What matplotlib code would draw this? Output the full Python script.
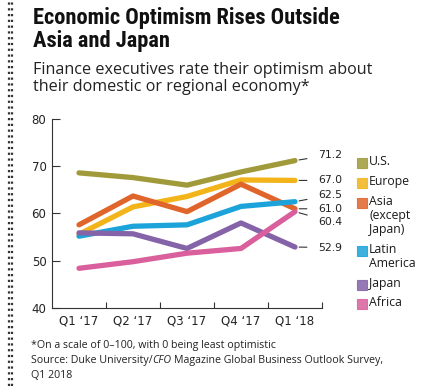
import matplotlib
matplotlib.use("Agg")
import matplotlib.pyplot as plt
from matplotlib.lines import Line2D
from matplotlib.patches import Rectangle
from matplotlib import font_manager as fm

categories = ["Q1 \u201817", "Q2 \u201817", "Q3 \u201817", "Q4 \u201817", "Q1 \u201818"]
series_names = ["U.S.", "Europe", "Asia\n(except\nJapan)", "Latin\nAmerica", "Japan", "Africa"]
us = [68.6, 67.6, 66.0, 68.8, 71.2]
europe = [55.6, 61.4, 63.6, 67.1, 67.0]
asia = [57.6, 63.7, 60.4, 66.2, 61.0]
latam = [55.2, 57.3, 57.6, 61.5, 62.5]
japan = [55.9, 55.7, 52.6, 58.0, 52.9]
africa = [48.4, 49.8, 51.6, 52.6, 60.4]
end_labels = ["71.2", "67.0", "61.0", "62.5", "52.9", "60.4"]

colors = ["#a09a3a", "#f2b418", "#e0652a", "#1ba3da", "#8463a8", "#d9609c"]
label_y = [72.4, 67.0, 61.0, 63.9, 52.8, 58.3]

# pick a condensed bold font for the title if available
cands = []
for f in fm.fontManager.ttflist:
    n = f.name.lower()
    s = str(f.stretch).lower()
    w = f.weight if isinstance(f.weight, int) else (700 if 'bold' in str(f.weight) else 400)
    if w >= 600 and f.style == 'normal' and ('narrow' in n or 'condensed' in n or 'condensed' in s or (isinstance(f.stretch, int) and f.stretch < 500)):
        cands.append(f)
pref = ['liberation sans narrow', 'roboto condensed', 'dejavu sans']
cands.sort(key=lambda f: next((i for i, p in enumerate(pref) if p in f.name.lower()), 99))
if cands:
    title_fp = fm.FontProperties(fname=cands[0].fname, size=16.2)
else:
    title_fp = fm.FontProperties(family="DejaVu Sans", weight="bold", size=12.2)

W, H = 425, 386
fig = plt.figure(figsize=(W / 100, H / 100), dpi=100)
ax = fig.add_axes([52 / W, 1 - 308 / H, 270 / W, 189 / H])

data = [us, europe, asia, latam, japan, africa]
xs = list(range(len(categories)))
for vals, c in zip(data, colors):
    ax.plot(xs, vals, color=c, lw=3.8, solid_capstyle="round", solid_joinstyle="round")

ax.set_xlim(-0.5, 4.5)
ax.set_ylim(40, 80)
ax.set_yticks([40, 50, 60, 70, 80])
ax.set_xticks(xs)
ax.set_xticklabels(categories)
ax.set_xticks([0.5, 1.5, 2.5, 3.5, 4.5], minor=True)
ax.tick_params(axis="x", which="major", length=0, labelsize=8.5, pad=5, colors="#222222")
ax.tick_params(axis="x", which="minor", length=4, direction="in", width=0.8, color="#333333")
ax.tick_params(axis="y", which="major", length=6, direction="in", width=0.8, labelsize=8.5, pad=4, color="#333333", labelcolor="#222222")
for s in ["top", "right"]:
    ax.spines[s].set_visible(False)
for s in ["left", "bottom"]:
    ax.spines[s].set_linewidth(0.8)
    ax.spines[s].set_color("#333333")

# end labels with leader lines
for vals, lab, ly in zip(data, end_labels, label_y):
    ax.annotate(lab, xy=(4.0, vals[-1]), xytext=(4.0 + 23 / 54, ly),
                xycoords="data", textcoords="data", fontsize=7.8, va="center", ha="left",
                color="#222222", annotation_clip=False,
                arrowprops=dict(arrowstyle="-", color="#333333", lw=0.8, shrinkA=6, shrinkB=3))

# Title and subtitle
fig.text(33 / W, 1 - 24 / H, "Economic Optimism Rises Outside", ha="left", va="baseline",
         fontproperties=title_fp, color="#111111")
fig.text(33 / W, 1 - 46.5 / H, "Asia and Japan", ha="left", va="baseline",
         fontproperties=title_fp, color="#111111")
fig.text(33 / W, 1 - 74 / H, "Finance executives rate their optimism about", ha="left", va="baseline",
         fontsize=11.6, family=["Open Sans", "DejaVu Sans"], color="#222222")
fig.text(33 / W, 1 - 90.7 / H, "their domestic or regional economy*", ha="left", va="baseline",
         fontsize=11.6, family=["Open Sans", "DejaVu Sans"], color="#222222")

# Legend
leg_y = [163.3, 183.3, 203.3, 251, 285, 304.3]
for name, c, y in zip(series_names, colors, leg_y):
    fig.patches.append(Rectangle((357 / W, 1 - (y + 5) / H), 10 / W, 10 / H, transform=fig.transFigure,
                                 facecolor=c, edgecolor=c, alpha=0.85, lw=0.8))
    fig.text(369 / W, 1 - (y - 8) / H, name, ha="left", va="top", fontsize=8.8,
             family=["Open Sans", "DejaVu Sans"], linespacing=1.1, color="#1a1a1a")

# Footnotes
fn = dict(fontsize=7.7, family=["Open Sans", "DejaVu Sans"], color="#222222", ha="left", va="center")
fig.text(31 / W, 1 - 345.5 / H, "*On a scale of 0\u2013100, with 0 being least optimistic", **fn)
t1 = fig.text(31 / W, 1 - 360.5 / H, "Source: Duke University/", **fn)
fig.text(31 / W, 1 - 375 / H, "Q1 2018", **fn)
fig.canvas.draw()
bb = t1.get_window_extent()
t2 = fig.text(bb.x1 / fig.bbox.width, 1 - 360.5 / H, "CFO", style="italic", **fn)
fig.canvas.draw()
bb2 = t2.get_window_extent()
fig.text(bb2.x1 / fig.bbox.width + 2.5 / W, 1 - 360.5 / H, "Magazine Global Business Outlook Survey,", **fn)

# dotted border
for x in (8.5, 12):
    fig.lines.append(Line2D([x / W, x / W], [0, 1], transform=fig.transFigure, color="#333333",
                            lw=1.6, linestyle=(0, (1, 1.6))))

fig.savefig("out.png", dpi=100)
